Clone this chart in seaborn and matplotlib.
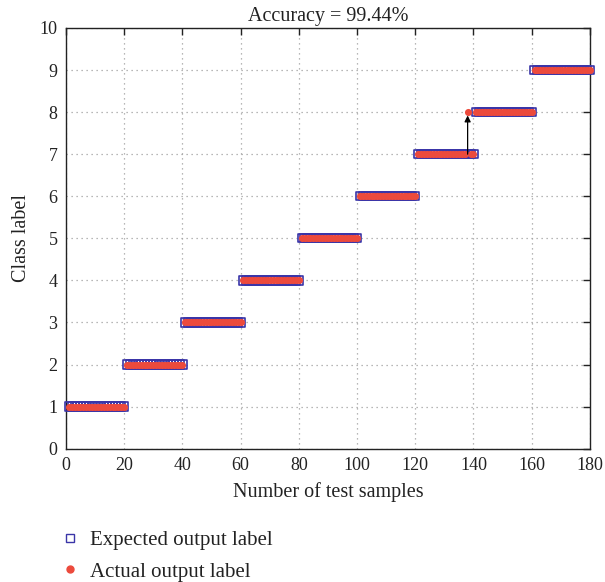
import numpy as np
import pandas as pd
import matplotlib
matplotlib.use("Agg")
import matplotlib.pyplot as plt
from matplotlib.lines import Line2D
import seaborn as sns

# Test set: 9 classes, 20 samples each
class_labels = [1, 2, 3, 4, 5, 6, 7, 8, 9]
samples_per_class = [20, 20, 20, 20, 20, 20, 20, 20, 20]
# The single misclassified sample: (sample number, predicted class)
wrong_sample = 138
wrong_prediction = 8

expected = np.repeat(class_labels, samples_per_class)
sample_no = np.arange(1, len(expected) + 1)
actual = expected.copy()
actual[wrong_sample - 1] = wrong_prediction
accuracy = 100.0 * np.mean(actual == expected)

df = pd.DataFrame({"sample": sample_no, "expected": expected, "actual": actual})

sns.set_theme(style="white")
plt.rcParams["font.family"] = ["Liberation Serif", "DejaVu Serif"]

fig = plt.figure(figsize=(6.05, 5.82), dpi=100)
ax = fig.add_axes([0.109, 0.229, 0.866, 0.723])

blue = "#3a35a8"
red = "#ec4a3c"

sns.scatterplot(data=df, x="sample", y="expected", ax=ax, marker="s",
                s=36, facecolor="none", edgecolor=blue, linewidth=1.2,
                zorder=3, clip_on=False)
sns.scatterplot(data=df, x="sample", y="actual", ax=ax, marker="o",
                s=26, color=red, linewidth=0, zorder=4, clip_on=False)

# Arrow from the expected class to the predicted one
ax.annotate("", xy=(wrong_sample, wrong_prediction - 0.08),
            xytext=(wrong_sample, expected[wrong_sample - 1]),
            arrowprops=dict(arrowstyle="-|>", color="black", lw=0.9,
                            mutation_scale=9, shrinkA=0, shrinkB=0),
            zorder=5)

ax.set_xlim(0, 180)
ax.set_ylim(0, 10)
ax.set_xticks(np.arange(0, 181, 20))
ax.set_yticks(np.arange(0, 11, 1))
ax.grid(True, linestyle=(0, (1, 3)), color="#a0a0a0", linewidth=0.9)
ax.set_axisbelow(True)
for sp in ax.spines.values():
    sp.set_color("#222222")
    sp.set_linewidth(1.0)
ax.tick_params(direction="in", length=5, width=1.0, top=True, right=True,
               labelsize=13, colors="#222222", labelcolor="#222222", pad=6)

ax.set_title(f"Accuracy = {accuracy:.2f}%", fontsize=14.5, color="#222222", pad=5)
ax.set_xlabel("Number of test samples", fontsize=14.5, color="#222222", labelpad=6)
ax.set_ylabel("Class label", fontsize=14.5, color="#222222", labelpad=6)

handles = [
    Line2D([], [], marker="s", linestyle="none", markersize=6,
           markerfacecolor="none", markeredgecolor=blue, markeredgewidth=1.0),
    Line2D([], [], marker="o", linestyle="none", markersize=5,
           markerfacecolor=red, markeredgecolor=red),
]
fig.legend(handles, ["Expected output label", "Actual output label"],
           loc="upper left", bbox_to_anchor=(0.068, 0.12), frameon=False,
           fontsize=15, handlelength=1.0, handletextpad=0.45, labelspacing=0.55,
           labelcolor="#222222")

fig.savefig("out.png", dpi=100)
